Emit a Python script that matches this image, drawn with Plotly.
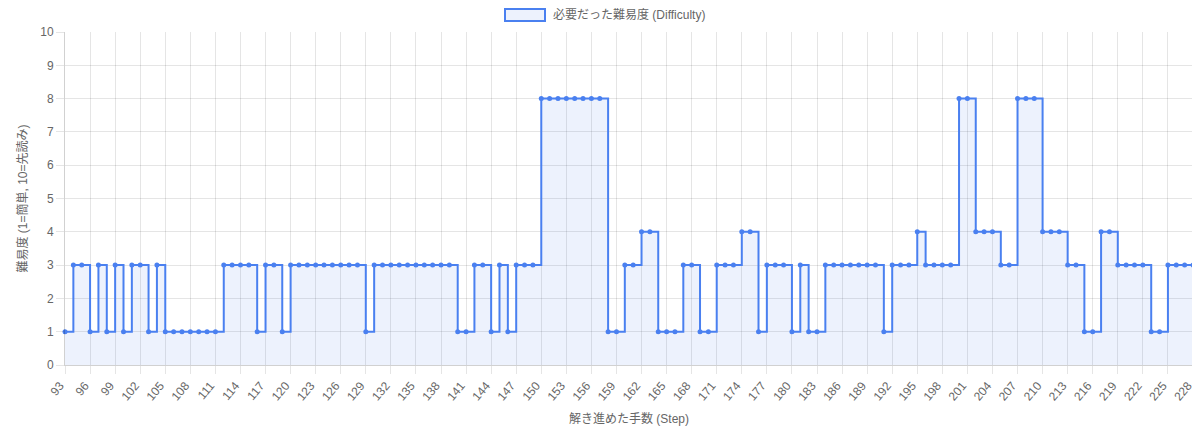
import plotly.graph_objects as go

steps = list(range(93, 229))
difficulty = [
    1, 3, 3, 1, 3, 1, 3, 1, 3, 3,          # 93-102
    1, 3, 1, 1, 1, 1, 1, 1, 1, 3,          # 103-112
    3, 3, 3, 1, 3, 3, 1, 3, 3, 3,          # 113-122
    3, 3, 3, 3, 3, 3, 1, 3, 3, 3,          # 123-132
    3, 3, 3, 3, 3, 3, 3, 1, 1, 3,          # 133-142
    3, 1, 3, 1, 3, 3, 3, 8, 8, 8,          # 143-152
    8, 8, 8, 8, 8, 1, 1, 3, 3, 4,          # 153-162
    4, 1, 1, 1, 3, 3, 1, 1, 3, 3,          # 163-172
    3, 4, 4, 1, 3, 3, 3, 1, 3, 1,          # 173-182
    1, 3, 3, 3, 3, 3, 3, 3, 1, 3,          # 183-192
    3, 3, 4, 3, 3, 3, 3, 8, 8, 4,          # 193-202
    4, 4, 3, 3, 8, 8, 8, 4, 4, 4,          # 203-212
    3, 3, 1, 1, 4, 4, 3, 3, 3, 3,          # 213-222
    1, 1, 3, 3, 3, 3,                      # 223-228
]
tick_steps = steps[::3]
series_name = "必要だった難易度 (Difficulty)"
x_title = "解き進めた手数 (Step)"
y_title = "難易度 (1=簡単, 10=先読み)"

LINE = "rgb(74,128,240)"
FILL = "rgba(74,128,240,0.1)"
GRID = "rgba(0,0,0,0.1)"
FONT = "Liberation Sans, Arial, 'Noto Sans CJK JP', sans-serif"

fig = go.Figure()
fig.add_trace(go.Scatter(
    x=steps, y=difficulty, name=series_name,
    mode="lines+markers", line=dict(shape="hv", color=LINE, width=2),
    marker=dict(size=5, color=LINE),
    fill="tozeroy", fillcolor=FILL, cliponaxis=False, showlegend=False,
))

# page body has an 8px margin, so the figure is drawn 8px in from the top-left
OFF = 8
W, H = 1200 - OFF, 428 - OFF
ml, mr, mt, mb = 65 - OFF, 7, 32 - OFF, 63
pw, ph = W - ml - mr, H - mt - mb
def px(x):
    return (x - OFF - ml) / pw
def py(y):
    return (H - mb - (y - OFF)) / ph

fig.update_layout(
    width=W, height=H,
    margin=dict(l=ml, r=mr, t=mt, b=mb, autoexpand=False),
    paper_bgcolor="white", plot_bgcolor="white",
    font=dict(family=FONT, size=12, color="#666"),
    shapes=[dict(type="rect", xref="paper", yref="paper",
                 x0=px(505), x1=px(545), y0=py(21), y1=py(9),
                 line=dict(color=LINE, width=2), fillcolor=FILL)],
    annotations=[dict(text=series_name, xref="paper", yref="paper",
                      x=px(551), y=py(15), xanchor="left", yanchor="middle",
                      showarrow=False, font=dict(size=12, color="#666"))],
)
fig.update_xaxes(
    range=[steps[0] - 0.001, steps[-1] + 0.001],
    tickmode="array", tickvals=tick_steps, ticktext=[str(s) for s in tick_steps],
    tickangle=-50, ticklabeloverflow="allow", ticklabelshift=-5,
    showgrid=True, gridcolor=GRID, gridwidth=1,
    ticks="outside", ticklen=8, tickcolor=GRID,
    showline=True, linecolor="rgba(0,0,0,0.18)", linewidth=1,
    zeroline=False, automargin=False,
    title=dict(text=x_title, font=dict(size=12, color="#666"), standoff=12),
    tickfont=dict(size=12, color="#666"),
)
fig.update_yaxes(
    range=[0, 10], tick0=0, dtick=1,
    showgrid=True, gridcolor=GRID, gridwidth=1,
    ticks="outside", ticklen=8, tickcolor=GRID,
    showline=True, linecolor="rgba(0,0,0,0.18)", linewidth=1,
    zeroline=False, automargin=False,
    title=dict(text=y_title, font=dict(size=12, color="#666"), standoff=10),
    tickfont=dict(size=12, color="#666"),
)

fig.write_html("out.html")
